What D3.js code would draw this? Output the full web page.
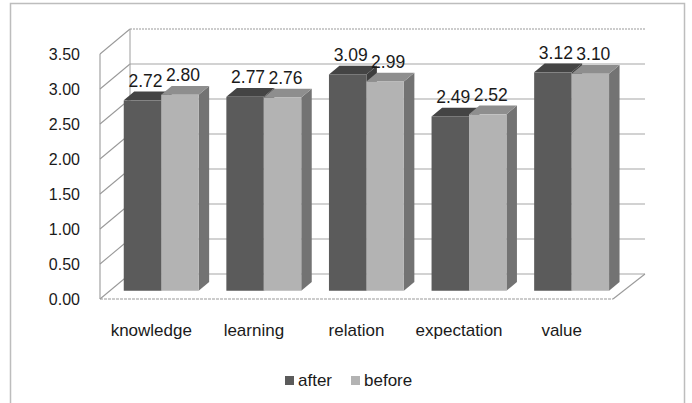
<!DOCTYPE html>
<html>
<head>
<meta charset="utf-8">
<script src="https://cdn.jsdelivr.net/npm/d3@7"></script>
<style>
  html, body { margin: 0; padding: 0; background: #fff; }
  svg { display: block; }
  text { font-family: "Liberation Sans", Arial, sans-serif; fill: #1a1a1a; }
</style>
</head>
<body>
<svg id="chart" width="692" height="403"></svg>
<script>
const categories = ["knowledge", "learning", "relation", "expectation", "value"];
const seriesNames = ["after", "before"];
const afterValues = [2.72, 2.77, 3.09, 2.49, 3.12];
const beforeValues = [2.80, 2.76, 2.99, 2.52, 3.10];
const tickValues = [0, 0.5, 1, 1.5, 2, 2.5, 3, 3.5];

const colors = {
  after: { front: "#5b5b5b", top: "#444444", side: "#3e3e3e" },
  before: { front: "#b3b3b3", top: "#8e8e8e", side: "#737373" }
};

const svg = d3.select("#chart");

// outer border
svg.append("rect").attr("x", 10.5).attr("y", 3.5).attr("width", 674).attr("height", 405)
  .attr("fill", "none").attr("stroke", "#bdbdbd").attr("stroke-width", 1.5);

// 3D geometry
const left = 100, right = 613;
const depth = { dx: 30, dy: -25 };
const y = d3.scaleLinear().domain([0, 3.5]).range([299, 54]);
const x0 = d3.scaleBand().domain(categories).range([left, right]).padding(0);
const x1 = d3.scaleBand().domain(seriesNames).range([0, x0.bandwidth()]).paddingInner(0).paddingOuter(0.37);

const tFront = 0.33, tBack = 0.68;
const off = t => ({ x: depth.dx * t, y: depth.dy * t });

const g = svg.append("g");

// back wall gridlines
tickValues.forEach(v => {
  const yy = y(v) + depth.dy;
  g.append("line")
    .attr("x1", left + depth.dx).attr("x2", right + depth.dx + 2)
    .attr("y1", yy).attr("y2", yy)
    .attr("stroke", v === 3.5 ? "#9a9a9a" : "#a6a6a6")
    .attr("stroke-width", 1.2)
    .attr("stroke-dasharray", v === 3.5 ? "2,1" : null);
  // left wall diagonals
  g.append("line")
    .attr("x1", left).attr("y1", y(v))
    .attr("x2", left + depth.dx).attr("y2", y(v) + depth.dy)
    .attr("stroke", "#9a9a9a").attr("stroke-width", 1.1);
});
// left wall edges
g.append("line").attr("x1", left).attr("x2", left).attr("y1", y(3.5)).attr("y2", y(0))
  .attr("stroke", "#9a9a9a").attr("stroke-width", 1.1);
g.append("line").attr("x1", left + depth.dx).attr("x2", left + depth.dx)
  .attr("y1", y(3.5) + depth.dy).attr("y2", y(0) + depth.dy)
  .attr("stroke", "#a6a6a6").attr("stroke-width", 1.1);
// floor
g.append("line").attr("x1", left).attr("x2", right).attr("y1", y(0)).attr("y2", y(0))
  .attr("stroke", "#9a9a9a").attr("stroke-width", 1.2).attr("stroke-dasharray", "3,1");
g.append("line").attr("x1", right).attr("y1", y(0))
  .attr("x2", right + depth.dx + 2).attr("y2", y(0) + depth.dy)
  .attr("stroke", "#9a9a9a").attr("stroke-width", 1.1);

// y tick labels
svg.append("g").selectAll("text").data(tickValues).join("text")
  .attr("x", 80).attr("y", d => y(d)).attr("dy", "0.35em")
  .attr("text-anchor", "end").attr("font-size", 16)
  .text(d => d3.format(".2f")(d));

// bars
const data = [];
categories.forEach((c, i) => {
  data.push({ cat: c, s: "after", v: afterValues[i] });
  data.push({ cat: c, s: "before", v: beforeValues[i] });
});

const fo = off(tFront), bo = off(tBack);
const bw = x1.bandwidth();
const sdx = bo.x - fo.x, sdy = bo.y - fo.y;

const bars = svg.append("g").selectAll("g").data(data).join("g");
bars.each(function(d) {
  const gx = d3.select(this);
  const xl = x0(d.cat) + x1(d.s) + fo.x;
  const xr = xl + bw;
  const yt = y(d.v) + fo.y;
  const yb = y(0) + fo.y;
  const c = colors[d.s];
  gx.append("path")
    .attr("d", `M${xr},${yt} L${xr + sdx},${yt + sdy} L${xr + sdx},${yb + sdy} L${xr},${yb} Z`)
    .attr("fill", c.side);
  gx.append("path")
    .attr("d", `M${xl},${yt} L${xl + sdx},${yt + sdy} L${xr + sdx},${yt + sdy} L${xr},${yt} Z`)
    .attr("fill", c.top);
  gx.append("rect").attr("x", xl).attr("y", yt).attr("width", bw).attr("height", yb - yt)
    .attr("fill", c.front);
});

// value labels
svg.append("g").selectAll("text").data(data).join("text")
  .attr("x", d => x0(d.cat) + x1(d.s) + fo.x + bw / 2 + 3)
  .attr("y", d => y(d.v) + fo.y + sdy - 5)
  .attr("text-anchor", "middle").attr("font-size", 17.5)
  .text(d => d3.format(".2f")(d.v));

// category labels
svg.append("g").selectAll("text").data(categories).join("text")
  .attr("x", d => x0(d) + x0.bandwidth() / 2)
  .attr("y", 336)
  .attr("text-anchor", "middle").attr("font-size", 17)
  .text(d => d);

// legend
const legendX = [285, 351];
const legend = svg.append("g").selectAll("g").data(seriesNames).join("g")
  .attr("transform", (d, i) => `translate(${legendX[i]},376)`);
legend.append("rect").attr("width", 9).attr("height", 9)
  .attr("fill", d => colors[d].front);
legend.append("text").attr("x", 13).attr("y", 9.5).attr("font-size", 17)
  .text(d => d);
</script>
</body>
</html>
